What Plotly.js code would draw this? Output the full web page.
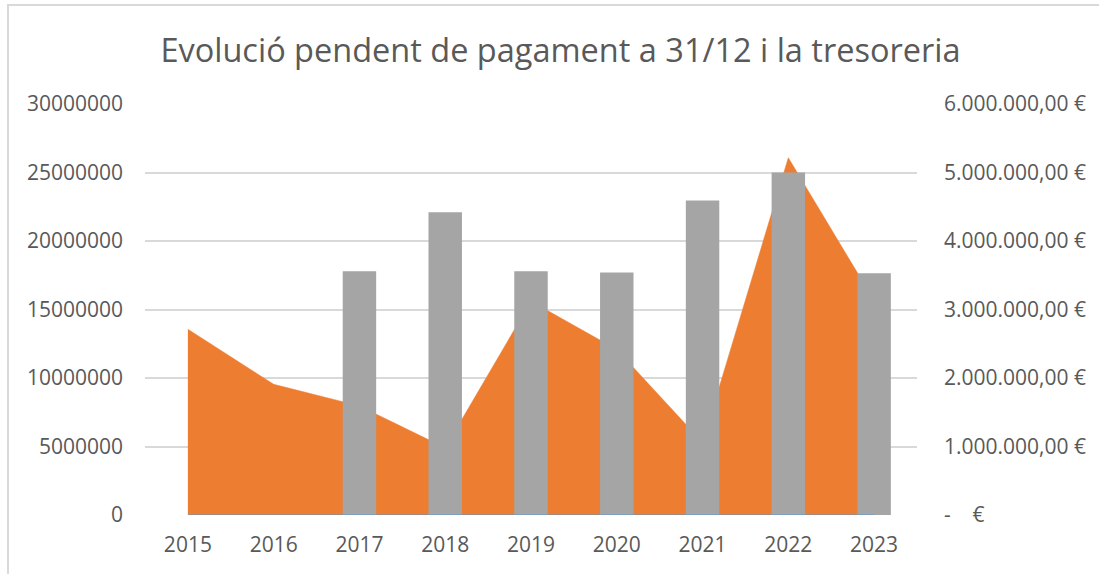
<!DOCTYPE html>
<html>
<head>
<meta charset="utf-8">
<script src="https://cdn.plot.ly/plotly-3.0.1.min.js"></script>
<style>
  html, body { margin: 0; padding: 0; background: #ffffff; }
  #wrap { position: relative; width: 1099px; height: 574px; }
  #chart { width: 1099px; height: 574px; }
  #frame { position: absolute; left: 7px; top: 4px; width: 1100px; height: 568px;
           border-left: 2px solid #D9D9D9; border-top: 2px solid #D9D9D9; pointer-events: none; }
</style>
</head>
<body>
<div id="wrap">
  <div id="chart"></div>
  <div id="frame"></div>
</div>
<script>
// Categories
const years = ["2015", "2016", "2017", "2018", "2019", "2020", "2021", "2022", "2023"];
// Area series (left axis)
const areaValues = [13560000, 9540000, 7960000, 4900000, 15600000, 12080000, 5300000, 26080000, 15650000];
// Bar series (right axis, €)
const barValues = [0, 0, 3560000, 4420000, 3560000, 3540000, 4590000, 5000000, 3530000];
// Tick labels
const leftTicks = [0, 5000000, 10000000, 15000000, 20000000, 25000000, 30000000];
const leftTickText = ["0", "5000000", "10000000", "15000000", "20000000", "25000000", "30000000"];
const rightTicks = [0, 1000000, 2000000, 3000000, 4000000, 5000000, 6000000];
const rightTickText = ["-\u00A0\u00A0\u00A0\u00A0€", "1.000.000,00\u00A0€", "2.000.000,00\u00A0€", "3.000.000,00\u00A0€",
                       "4.000.000,00\u00A0€", "5.000.000,00\u00A0€", "6.000.000,00\u00A0€"];
const titleText = "Evolució pendent de pagament a 31/12 i la tresoreria";

const fontFam = "Open Sans, Liberation Sans, sans-serif";
const txtColor = "#595959";
const tickSize = 21;

const area = {
  type: "scatter",
  x: years,
  y: areaValues,
  mode: "lines",
  fill: "tozeroy",
  fillcolor: "#ED7D31",
  line: { color: "#ED7D31", width: 0.5 },
  xaxis: "x",
  yaxis: "y",
  hoverinfo: "x+y"
};

const bars = {
  type: "bar",
  x: years,
  y: barValues,
  marker: { color: "#A5A5A5" },
  xaxis: "x",
  yaxis: "y2",
  hoverinfo: "x+y"
};

const layout = {
  width: 1099,
  height: 574,
  margin: { l: 145, r: 182, t: 104, b: 59, pad: 0 },
  paper_bgcolor: "#ffffff",
  plot_bgcolor: "#ffffff",
  showlegend: false,
  bargap: 0.61,
  font: { family: fontFam, color: txtColor, size: tickSize },
  title: {
    text: titleText,
    font: { family: fontFam, size: 32.5, color: txtColor },
    x: 0.51, xanchor: "center",
    y: 0.912, yanchor: "middle"
  },
  xaxis: {
    type: "category",
    categoryorder: "array",
    categoryarray: years,
    range: [-0.5, years.length - 0.5],
    showgrid: false,
    zeroline: false,
    showline: false,
    ticks: "",
    ticklabelstandoff: 15,
    tickfont: { family: fontFam, size: tickSize, color: txtColor }
  },
  yaxis: {
    range: [0, 30000000],
    tickvals: leftTicks,
    ticktext: leftTickText,
    showgrid: true,
    gridcolor: "#D9D9D9",
    gridwidth: 2,
    zeroline: false,
    showline: false,
    ticks: "",
    ticklabelstandoff: 21,
    tickfont: { family: fontFam, size: tickSize, color: txtColor }
  },
  yaxis2: {
    overlaying: "y",
    side: "right",
    range: [0, 6000000],
    tickvals: rightTicks,
    ticktext: rightTickText,
    showgrid: false,
    zeroline: false,
    showline: false,
    ticks: "",
    ticklabelstandoff: 26,
    tickfont: { family: fontFam, size: tickSize, color: txtColor }
  },
  shapes: [
    {
      type: "line", xref: "x", yref: "y",
      x0: 0, x1: years.length - 1, y0: 0, y1: 0,
      line: { color: "#5B9BD5", width: 1 }, layer: "above"
    }
  ]
};

Plotly.newPlot("chart", [area, bars], layout, { displayModeBar: false, staticPlot: true });
</script>
</body>
</html>
